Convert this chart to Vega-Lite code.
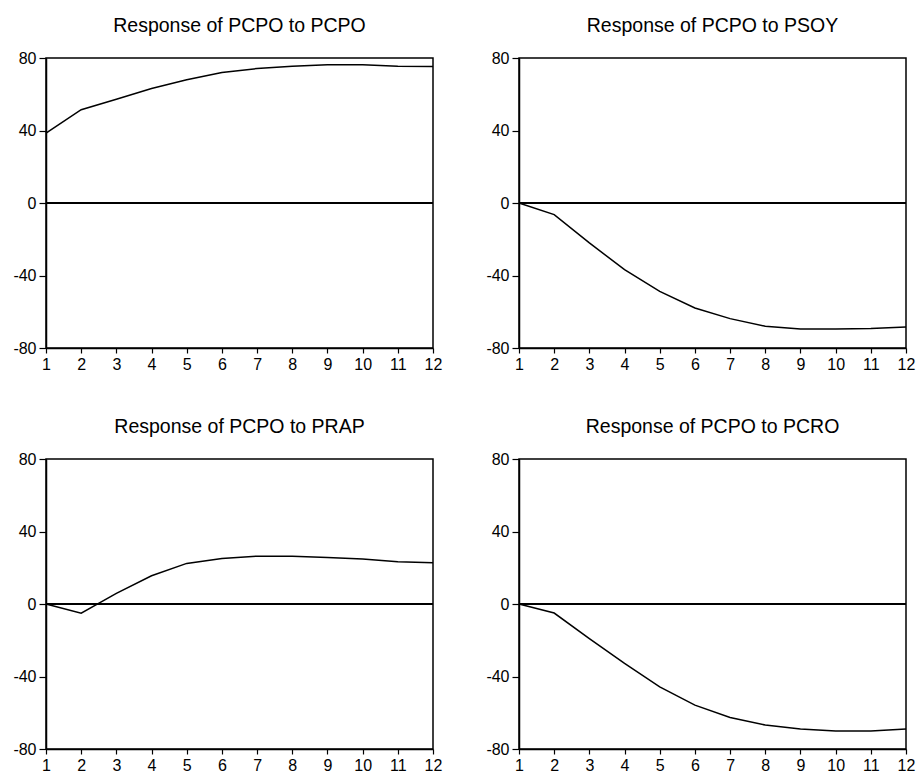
{
  "$schema": "https://vega.github.io/schema/vega-lite/v6.json",
  "padding": {"left": 12, "top": 14, "right": 5, "bottom": 5},
  "background": "white",
  "config": {
    "font": "Liberation Sans",
    "view": {"stroke": "black", "strokeWidth": 1.5},
    "title": {"fontSize": 19.5, "fontWeight": "normal", "color": "black", "offset": 14, "anchor": "middle"},
    "axis": {
      "grid": false,
      "domainColor": "black",
      "domainWidth": 1.5,
      "tickColor": "black",
      "tickWidth": 1.2,
      "labelColor": "black",
      "labelFontSize": 16,
      "labelFont": "Liberation Sans",
      "labelFlush": false,
      "labelOverlap": false,
      "labelBound": false,
      "labelExpr": "toString(datum.value)",
      "title": null
    }
  },
  "data": {
    "values": [
      {"panel": "PCPO", "period": 1, "response": 38.5},
      {"panel": "PCPO", "period": 2, "response": 51.5},
      {"panel": "PCPO", "period": 3, "response": 57.2},
      {"panel": "PCPO", "period": 4, "response": 63.2},
      {"panel": "PCPO", "period": 5, "response": 68},
      {"panel": "PCPO", "period": 6, "response": 72},
      {"panel": "PCPO", "period": 7, "response": 74.2},
      {"panel": "PCPO", "period": 8, "response": 75.4},
      {"panel": "PCPO", "period": 9, "response": 76.3},
      {"panel": "PCPO", "period": 10, "response": 76.3},
      {"panel": "PCPO", "period": 11, "response": 75.5},
      {"panel": "PCPO", "period": 12, "response": 75.3},
      {"panel": "PSOY", "period": 1, "response": 0},
      {"panel": "PSOY", "period": 2, "response": -6.4},
      {"panel": "PSOY", "period": 3, "response": -22},
      {"panel": "PSOY", "period": 4, "response": -36.8},
      {"panel": "PSOY", "period": 5, "response": -48.8},
      {"panel": "PSOY", "period": 6, "response": -57.9},
      {"panel": "PSOY", "period": 7, "response": -63.8},
      {"panel": "PSOY", "period": 8, "response": -68},
      {"panel": "PSOY", "period": 9, "response": -69.5},
      {"panel": "PSOY", "period": 10, "response": -69.5},
      {"panel": "PSOY", "period": 11, "response": -69.3},
      {"panel": "PSOY", "period": 12, "response": -68.4},
      {"panel": "PRAP", "period": 1, "response": 0},
      {"panel": "PRAP", "period": 2, "response": -5.1},
      {"panel": "PRAP", "period": 3, "response": 5.9},
      {"panel": "PRAP", "period": 4, "response": 15.6},
      {"panel": "PRAP", "period": 5, "response": 22.4},
      {"panel": "PRAP", "period": 6, "response": 25.1},
      {"panel": "PRAP", "period": 7, "response": 26.4},
      {"panel": "PRAP", "period": 8, "response": 26.4},
      {"panel": "PRAP", "period": 9, "response": 25.7},
      {"panel": "PRAP", "period": 10, "response": 24.8},
      {"panel": "PRAP", "period": 11, "response": 23.3},
      {"panel": "PRAP", "period": 12, "response": 22.8},
      {"panel": "PCRO", "period": 1, "response": 0},
      {"panel": "PCRO", "period": 2, "response": -5},
      {"panel": "PCRO", "period": 3, "response": -19.1},
      {"panel": "PCRO", "period": 4, "response": -32.8},
      {"panel": "PCRO", "period": 5, "response": -45.7},
      {"panel": "PCRO", "period": 6, "response": -55.8},
      {"panel": "PCRO", "period": 7, "response": -62.6},
      {"panel": "PCRO", "period": 8, "response": -66.8},
      {"panel": "PCRO", "period": 9, "response": -69},
      {"panel": "PCRO", "period": 10, "response": -70.1},
      {"panel": "PCRO", "period": 11, "response": -70.1},
      {"panel": "PCRO", "period": 12, "response": -69}
    ]
  },
  "columns": 2,
  "spacing": {"row": 111, "column": 86},
  "bounds": "flush",
  "concat": [
    {
      "title": "Response of PCPO to PCPO",
      "width": 387, "height": 290,
      "transform": [{"filter": "datum.panel === 'PCPO'"}],
      "layer": [
        {"mark": {"type": "rule", "color": "black", "strokeWidth": 1.5}, "encoding": {"y": {"datum": 0, "type": "quantitative"}}},
        {"mark": {"type": "line", "color": "black", "strokeWidth": 1.5},
         "encoding": {
           "x": {"field": "period", "type": "quantitative", "scale": {"domain": [1, 12], "nice": false}, "axis": {"values": [1,2,3,4,5,6,7,8,9,10,11,12], "tickSize": 5, "labelPadding": 3}},
           "y": {"field": "response", "type": "quantitative", "scale": {"domain": [-80, 80], "nice": false}, "axis": {"values": [-80,-40,0,40,80], "tickSize": 7, "labelPadding": 3}}
         }}
      ]
    },
    {
      "title": "Response of PCPO to PSOY",
      "width": 387, "height": 290,
      "transform": [{"filter": "datum.panel === 'PSOY'"}],
      "layer": [
        {"mark": {"type": "rule", "color": "black", "strokeWidth": 1.5}, "encoding": {"y": {"datum": 0, "type": "quantitative"}}},
        {"mark": {"type": "line", "color": "black", "strokeWidth": 1.5},
         "encoding": {
           "x": {"field": "period", "type": "quantitative", "scale": {"domain": [1, 12], "nice": false}, "axis": {"values": [1,2,3,4,5,6,7,8,9,10,11,12], "tickSize": 5, "labelPadding": 3}},
           "y": {"field": "response", "type": "quantitative", "scale": {"domain": [-80, 80], "nice": false}, "axis": {"values": [-80,-40,0,40,80], "tickSize": 7, "labelPadding": 3}}
         }}
      ]
    },
    {
      "title": "Response of PCPO to PRAP",
      "width": 387, "height": 290,
      "transform": [{"filter": "datum.panel === 'PRAP'"}],
      "layer": [
        {"mark": {"type": "rule", "color": "black", "strokeWidth": 1.5}, "encoding": {"y": {"datum": 0, "type": "quantitative"}}},
        {"mark": {"type": "line", "color": "black", "strokeWidth": 1.5},
         "encoding": {
           "x": {"field": "period", "type": "quantitative", "scale": {"domain": [1, 12], "nice": false}, "axis": {"values": [1,2,3,4,5,6,7,8,9,10,11,12], "tickSize": 5, "labelPadding": 3}},
           "y": {"field": "response", "type": "quantitative", "scale": {"domain": [-80, 80], "nice": false}, "axis": {"values": [-80,-40,0,40,80], "tickSize": 7, "labelPadding": 3}}
         }}
      ]
    },
    {
      "title": "Response of PCPO to PCRO",
      "width": 387, "height": 290,
      "transform": [{"filter": "datum.panel === 'PCRO'"}],
      "layer": [
        {"mark": {"type": "rule", "color": "black", "strokeWidth": 1.5}, "encoding": {"y": {"datum": 0, "type": "quantitative"}}},
        {"mark": {"type": "line", "color": "black", "strokeWidth": 1.5},
         "encoding": {
           "x": {"field": "period", "type": "quantitative", "scale": {"domain": [1, 12], "nice": false}, "axis": {"values": [1,2,3,4,5,6,7,8,9,10,11,12], "tickSize": 5, "labelPadding": 3}},
           "y": {"field": "response", "type": "quantitative", "scale": {"domain": [-80, 80], "nice": false}, "axis": {"values": [-80,-40,0,40,80], "tickSize": 7, "labelPadding": 3}}
         }}
      ]
    }
  ]
}
